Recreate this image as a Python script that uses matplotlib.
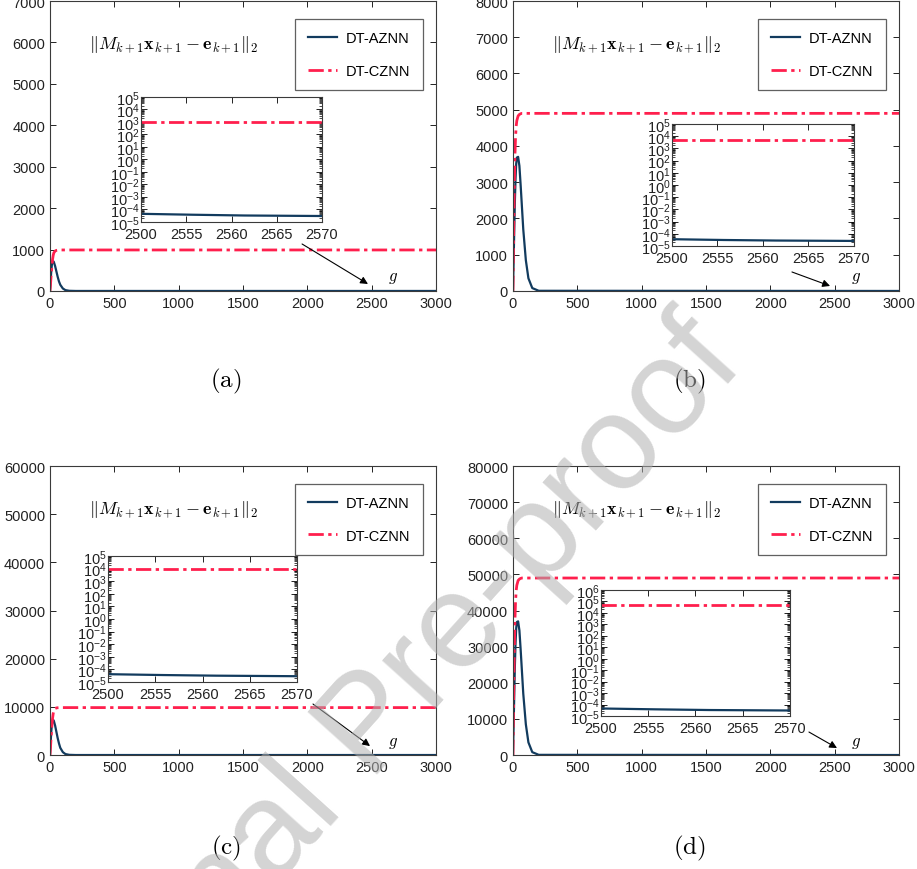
import matplotlib.pyplot as plt
import matplotlib.ticker as mticker

plt.rcParams['font.family'] = ['Liberation Sans', 'DejaVu Sans']
plt.rcParams['mathtext.fontset'] = 'custom'
plt.rcParams['mathtext.rm'] = 'Liberation Sans'
plt.rcParams['mathtext.it'] = 'Liberation Sans:italic'
plt.rcParams['mathtext.bf'] = 'Liberation Sans:bold'

# iteration index g (main panels)
g_main = [0, 5, 10, 15, 20, 25, 30, 40, 50, 60, 70, 80, 100, 120, 150, 200, 3000]

azn_a = [0, 250, 480, 640, 710, 720, 700, 600, 470, 340, 230, 150, 60, 20, 4, 0, 0]
czn_a = [0, 200, 420, 610, 760, 860, 920, 965, 980, 985, 988, 990, 990, 990, 990, 990, 990]
azn_b = [0, 800, 1700, 2500, 3100, 3500, 3680, 3700, 3450, 2900, 2300, 1700, 850, 350, 80, 5, 0]
czn_b = [0, 1500, 2800, 3700, 4250, 4550, 4700, 4830, 4870, 4890, 4900, 4900, 4900, 4900, 4900, 4900, 4900]
azn_c = [0, 2500, 4800, 6400, 7100, 7300, 7100, 6100, 4800, 3500, 2400, 1500, 600, 200, 40, 0, 0]
czn_c = [0, 2000, 4200, 6100, 7600, 8600, 9200, 9650, 9780, 9820, 9840, 9850, 9850, 9850, 9850, 9850, 9850]
azn_d = [0, 8000, 17000, 25000, 31000, 35000, 36800, 37000, 34500, 29000, 23000, 17000, 8500, 3500, 800, 50, 0]
czn_d = [0, 15000, 28000, 37000, 42500, 45500, 47000, 48300, 48700, 48900, 49000, 49000, 49000, 49000, 49000, 49000, 49000]

# zoomed window
g_zoom = [2500, 2520, 2540, 2570]
azn_zoom_a = [4.5e-5, 3.8e-5, 3.3e-5, 3.0e-5]
azn_zoom_b = [3.6e-5, 3.1e-5, 2.8e-5, 2.6e-5]
azn_zoom_c = [4.2e-5, 3.6e-5, 3.2e-5, 2.9e-5]
azn_zoom_d = [4.5e-5, 3.8e-5, 3.3e-5, 3.0e-5]
czn_zoom = [990, 4900, 9850, 49000]
zoom_xticklabels = ['2500', '2555', '2560', '2565', '2570']

ymax = [7000, 8000, 60000, 80000]
ystep = [1000, 1000, 10000, 10000]
zoom_ymax_exp = [5, 5, 5, 6]
captions = ['a', 'b', 'c', 'd']

# layout (figure fractions)
main_pos = [[0.0545, 0.6644, 0.421, 0.3333], [0.5594, 0.6644, 0.421, 0.3333],
            [0.0545, 0.1310, 0.421, 0.3322], [0.5594, 0.1310, 0.421, 0.3322]]
inset_pos = [[0.1538, 0.7437, 0.1974, 0.1437], [0.7328, 0.7161, 0.1985, 0.1402],
             [0.1178, 0.2149, 0.2061, 0.1448], [0.6554, 0.1759, 0.2061, 0.1448]]
arrow_tail = [(1959, 1134), (2168, 524), (2044, 10588), (2300, 6367)]
arrow_head = [(2471, 169), (2464, 138), (2487, 1868), (2518, 1938)]
cap_pos = [(0.2465, 0.562), (0.7514, 0.562), (0.2465, 0.0253), (0.7514, 0.0253)]

blue = '#123b5e'
red = '#ff1f4d'
spine_c = '#3a3a3a'
dashdot = (0, (5.5, 1.6, 1.2, 1.6))

azn_all = [azn_a, azn_b, azn_c, azn_d]
czn_all = [czn_a, czn_b, czn_c, czn_d]
azn_zoom_all = [azn_zoom_a, azn_zoom_b, azn_zoom_c, azn_zoom_d]

fig = plt.figure(figsize=(9.17, 8.70), dpi=100)


def style_axes(ax, fs):
    for s in ax.spines.values():
        s.set_color(spine_c)
        s.set_linewidth(0.8)
    ax.tick_params(direction='in', top=True, right=True, labelsize=fs,
                   colors='#222222', length=4, width=0.7)


for i in range(4):
    ax = fig.add_axes(main_pos[i])
    ax.plot(g_main, azn_all[i], color=blue, lw=1.6, label='DT-AZNN')
    ax.plot(g_main, czn_all[i], color=red, lw=2.0, ls=dashdot, label='DT-CZNN')
    ax.set_xlim(0, 3000)
    ax.set_ylim(0, ymax[i])
    ax.set_xticks(range(0, 3001, 500))
    ax.set_yticks(range(0, ymax[i] + 1, ystep[i]))
    style_axes(ax, 10.5)
    leg = ax.legend(loc='upper left', bbox_to_anchor=(0.635, 0.938), borderaxespad=0,
                    fancybox=False, edgecolor=spine_c, fontsize=10.5,
                    labelspacing=1.25, handlelength=2.0, borderpad=0.85,
                    handletextpad=0.65)
    leg.get_frame().set_linewidth(0.9)
    ax.text(0.32, 0.852, r'$\Vert M_{k+1}\mathbf{x}_{k+1}-\mathbf{e}_{k+1}\Vert_2$',
            transform=ax.transAxes, ha='center', va='center', fontsize=13,
            math_fontfamily='cm')
    ax.text(0.889, 0.045, r'$g$', transform=ax.transAxes, ha='center', va='center',
            fontsize=12, math_fontfamily='cm')
    ax.annotate('', xy=arrow_head[i], xytext=arrow_tail[i],
                arrowprops=dict(arrowstyle='-|>', color='k', lw=0.8,
                                mutation_scale=11, shrinkA=0, shrinkB=0))
    fig.text(cap_pos[i][0], cap_pos[i][1], r'$(\mathrm{' + captions[i] + '})$',
             ha='center', va='center', fontsize=18, math_fontfamily='cm')

    ins = fig.add_axes(inset_pos[i])
    ins.plot(g_zoom, azn_zoom_all[i], color=blue, lw=1.6)
    ins.plot([g_zoom[0], g_zoom[-1]], [czn_zoom[i], czn_zoom[i]], color=red, lw=2.0,
             ls=dashdot)
    ins.set_yscale('log')
    ins.set_xlim(2500, 2570)
    ins.set_ylim(1e-5, 10.0 ** zoom_ymax_exp[i])
    ins.set_xticks([2500 + 70 * k / 4 for k in range(5)])
    ins.set_xticklabels(zoom_xticklabels)
    ins.yaxis.set_major_locator(mticker.FixedLocator(
        [10.0 ** e for e in range(-5, zoom_ymax_exp[i] + 1)]))
    ins.yaxis.set_major_formatter(mticker.FixedFormatter(
        [r'$10^{%d}$' % e for e in range(-5, zoom_ymax_exp[i] + 1)]))
    ins.yaxis.set_minor_locator(mticker.LogLocator(subs=range(2, 10), numticks=30))
    ins.yaxis.set_minor_formatter(mticker.NullFormatter())
    style_axes(ins, 10.5)
    ins.tick_params(axis='y', labelsize=10.5, pad=1)
    ins.tick_params(which='minor', direction='in', right=True, length=2, width=0.5)

fig.text(0.4057, 0.1632, 'Journal Pre-proof', rotation=48, fontsize=97, color='#b0b0b0',
         alpha=0.55, ha='center', va='center', rotation_mode='anchor', zorder=10)

fig.savefig('out.png', dpi=100)
